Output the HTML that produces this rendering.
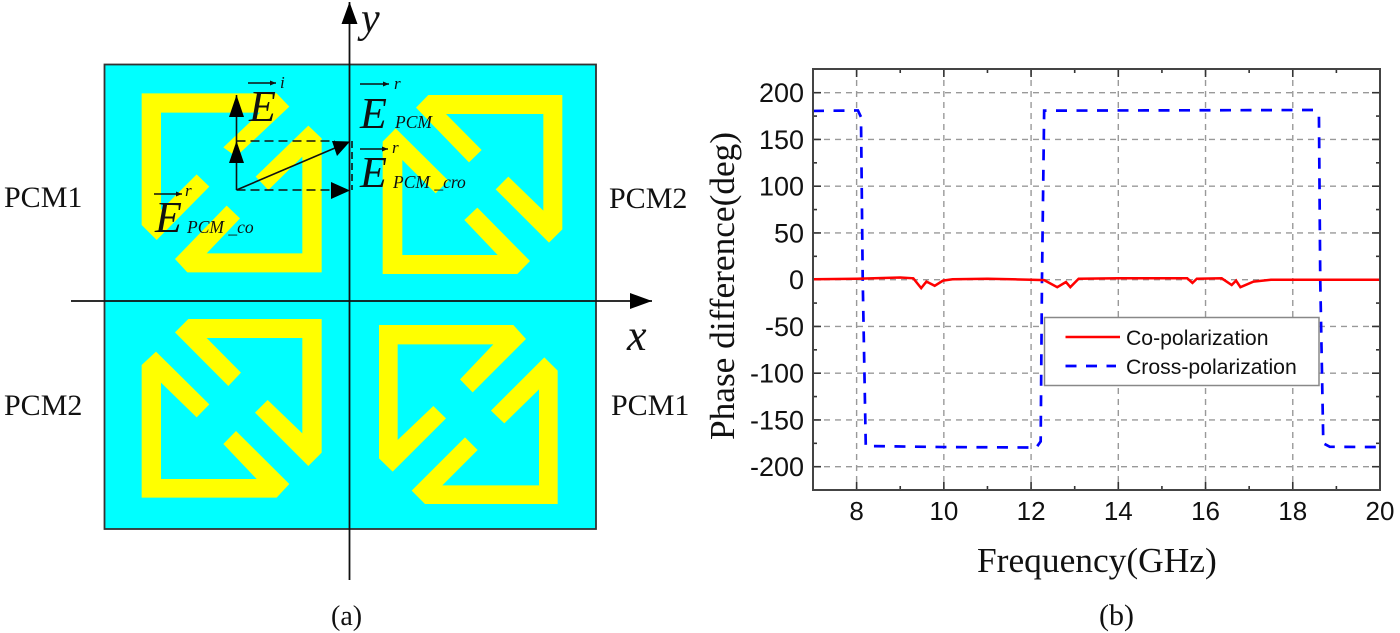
<!DOCTYPE html>
<html lang="en">
<head>
<meta charset="utf-8">
<title>Phase gradient metasurface and phase difference chart</title>
<style>
html,body{margin:0;padding:0;background:#fff;}
svg{display:block;filter:blur(0.35px);}
.serif{font-family:"Liberation Serif",serif;fill:#111;}
.sans{font-family:"Liberation Sans",sans-serif;fill:#111;}
.yellow{fill:#ffff00;}
</style>
</head>
<body>
<svg id="figure" xmlns="http://www.w3.org/2000/svg" width="1400" height="633" viewBox="0 0 1400 633">
  <defs>
    <marker id="bigHead" markerUnits="userSpaceOnUse" markerWidth="24" markerHeight="16" refX="22" refY="8" orient="auto"><path d="M0 0L22 8L0 16Z" fill="#000"/></marker>
    <marker id="tinyHead" markerUnits="userSpaceOnUse" markerWidth="7" markerHeight="5" refX="6" refY="2.5" orient="auto"><path d="M0 0L6 2.5L0 5Z" fill="#111"/></marker>
  </defs>

  <g id="panel-a">
    <rect x="104.5" y="64.5" width="491.5" height="464.5" fill="#00ffff" stroke="#333" stroke-width="1.8"/>

    <g transform="translate(100 60) scale(.33333)">
      <polygon class="yellow" points="125,100 530,100 568,140 408,290 370,262 480,158 183,158 183,450 290,343 328,380 170,540 125,495"/>
      <polygon class="yellow" points="625,197 665,235 665,637 262,637 225,597 380,437 420,475 320,580 607,580 607,290 505,390 467,350"/>
    </g>
    <g transform="translate(345 60) scale(.33333)">
      <polygon class="yellow" points="213,143 250,105 652,105 652,508 612,548 452,388 490,350 595,452 595,162 303,162 410,270 372,307"/>
      <polygon class="yellow" points="113,245 152,205 310,362 272,400 172,300 172,585 458,585 358,480 397,443 555,603 517,642 113,642"/>
    </g>
    <g transform="translate(100 300) scale(.33333)">
      <polygon class="yellow" points="225,97 265,57 665,57 665,458 625,498 465,338 503,300 607,400 607,114 320,114 423,218 385,258"/>
      <polygon class="yellow" points="125,195 168,155 328,313 290,352 183,248 183,537 470,537 370,432 408,393 568,552 530,593 125,593"/>
    </g>
    <g transform="translate(345 300) scale(.33333)">
      <polygon class="yellow" points="102,75 505,75 543,117 383,277 345,238 445,133 158,133 158,420 265,318 303,355 143,515 102,475"/>
      <polygon class="yellow" points="598,172 638,212 638,612 240,612 200,572 360,412 398,450 292,556 582,556 582,268 478,370 438,332"/>
    </g>

    <line x1="71" y1="301" x2="652" y2="301" stroke="#111" stroke-width="1.8" marker-end="url(#bigHead)"/>
    <line x1="349.5" y1="580" x2="349.5" y2="2" stroke="#111" stroke-width="1.8" marker-end="url(#bigHead)"/>
    <text class="serif" x="627" y="350" font-size="44" font-style="italic">x</text>
    <text class="serif" x="361" y="32" font-size="42" font-style="italic">y</text>

    <g stroke="#111" fill="none">
      <line x1="236.5" y1="190" x2="236.5" y2="95" stroke-width="1.6"/>
      <path d="M236.5 95L229 117H244Z M236.5 141L229 163H244Z" fill="#000" stroke="none"/>
      <line x1="236.5" y1="141" x2="335" y2="141" stroke-width="1.6" stroke-dasharray="9 5"/>
      <line x1="236.5" y1="190" x2="335" y2="190" stroke-width="1.6" stroke-dasharray="9 5"/>
      <path d="M331 182L350 190.5L331 199Z" fill="#000" stroke="none"/>
      <line x1="236.5" y1="190" x2="342" y2="145" stroke-width="1.6"/>
      <path d="M332 141L350 141.5L337 156Z" fill="#000" stroke="none"/>
      <line x1="352" y1="141" x2="352" y2="190" stroke-width="1.6" stroke-dasharray="7 4"/>
    </g>

    <g>
      <line x1="248" y1="83" x2="276" y2="83" stroke="#111" stroke-width="1.4" marker-end="url(#tinyHead)"/>
      <text class="serif" x="249" y="121" font-size="44" font-style="italic">E</text>
      <text class="serif" x="280" y="88" font-size="17" font-style="italic">i</text>
    </g>
    <g>
      <line x1="154" y1="194" x2="182" y2="194" stroke="#111" stroke-width="1.4" marker-end="url(#tinyHead)"/>
      <text class="serif" x="155" y="232" font-size="44" font-style="italic">E</text>
      <text class="serif" x="185" y="196" font-size="17" font-style="italic">r</text>
      <text class="serif" x="187" y="233" font-size="17.5" font-style="italic">PCM _co</text>
    </g>
    <g>
      <line x1="360" y1="84" x2="389" y2="84" stroke="#111" stroke-width="1.4" marker-end="url(#tinyHead)"/>
      <text class="serif" x="360" y="128" font-size="44" font-style="italic">E</text>
      <text class="serif" x="394" y="89" font-size="17" font-style="italic">r</text>
      <text class="serif" x="395" y="128" font-size="17.5" font-style="italic">PCM</text>
    </g>
    <g>
      <line x1="360" y1="149" x2="388" y2="149" stroke="#111" stroke-width="1.4" marker-end="url(#tinyHead)"/>
      <text class="serif" x="360" y="187" font-size="44" font-style="italic">E</text>
      <text class="serif" x="392" y="153" font-size="17" font-style="italic">r</text>
      <text class="serif" x="393" y="188" font-size="17.5" font-style="italic">PCM _cro</text>
    </g>

    <text class="serif" x="4" y="207" font-size="30">PCM1</text>
    <text class="serif" x="609" y="208" font-size="30">PCM2</text>
    <text class="serif" x="4" y="415" font-size="30">PCM2</text>
    <text class="serif" x="611" y="415" font-size="30">PCM1</text>
    <text class="serif" x="331" y="625" font-size="28">(a)</text>
  </g>

  <g id="panel-b">
    <g id="grid"></g>
    <g id="ticks"></g>
    <g id="series"></g>
    <rect x="813" y="69" width="567" height="421" fill="none" stroke="#444" stroke-width="2"/>
    <g id="tick-labels"></g>
    <text class="serif" font-size="35.3" transform="translate(734 440) rotate(-90)">Phase difference(deg)</text>
    <text class="serif" x="977" y="572" font-size="35.4">Frequency(GHz)</text>
    <g>
      <rect x="1044.5" y="317.5" width="274.5" height="68" fill="#fff" stroke="#888" stroke-width="1.5"/>
      <line x1="1065.5" y1="337" x2="1120" y2="337" stroke="#ff0000" stroke-width="2.5"/>
      <text class="sans" x="1126" y="345" font-size="21.2">Co-polarization</text>
      <line x1="1065.5" y1="366" x2="1116" y2="366" stroke="#0000ff" stroke-width="2.7" stroke-dasharray="11 9.5"/>
      <text class="sans" x="1126" y="374" font-size="21.2">Cross-polarization</text>
    </g>
    <text class="serif" x="1099" y="625" font-size="30">(b)</text>
  </g>
</svg>
<script>
const xTicks = [8, 10, 12, 14, 16, 18, 20];
const xMinorTicks = [9, 11, 13, 15, 17, 19];
const yTicks = [-200, -150, -100, -50, 0, 50, 100, 150, 200];
const yMinorTicks = [-175, -125, -75, -25, 25, 75, 125, 175];
const xGridTicks = [8, 10, 12, 14, 16, 18];
const coFreq = [7, 8, 9, 9.3, 9.48, 9.6, 9.79, 9.98, 10.2, 11, 12, 12.3, 12.6, 12.8, 12.9, 13.09, 14, 15.58, 15.7, 15.8, 16.37, 16.6, 16.7, 16.8, 17.1, 17.5, 18, 20];
const coPhase = [0.5, 1, 2.4, 1.5, -9, -2, -6.5, -1, 0.5, 1, 0, -0.5, -8, -2.5, -8, 1, 1.5, 1.5, -3.5, 1, 1.5, -5.7, -1, -8, -2, 0, 0, 0];
const crossFreq = [7, 8, 8.03, 8.1, 8.14, 8.21, 8.4, 10, 12.12, 12.22, 12.25, 12.3, 14, 18.47, 18.6, 18.63, 18.7, 18.85, 20];
const crossPhase = [180.5, 181, 181, 174, 0, -178, -178, -179, -179.5, -173, 0, 180.8, 181, 181.5, 176, 0, -175, -178.7, -179];

const NS = 'http://www.w3.org/2000/svg';
const plotLeft = 813, plotRight = 1380, plotTop = 69, plotBottom = 490;
const sx = v => plotLeft + (v - 7) * (plotRight - plotLeft) / 13;
const sy = v => 279.7 - v * 0.935;

function make(tag, parentId, attrs, text) {
  const el = document.createElementNS(NS, tag);
  for (const k in attrs) el.setAttribute(k, attrs[k]);
  if (text !== undefined) el.textContent = text;
  document.getElementById(parentId).appendChild(el);
  return el;
}

xGridTicks.forEach(v => {
  const el = make('line', 'grid', {x1: sx(v), x2: sx(v), y1: plotTop, y2: plotBottom, stroke: '#999', 'stroke-width': 1.4, 'stroke-dasharray': '6 5'});
  
  
});
yTicks.forEach(v => {
  const el = make('line', 'grid', {x1: plotLeft, x2: plotRight, y1: sy(v), y2: sy(v), stroke: '#999', 'stroke-width': 1.4, 'stroke-dasharray': '6 5'});
  
  
});

function xTick(v, len) {
  const top = make('line', 'ticks', {x1: sx(v), x2: sx(v), y1: plotTop, y2: plotTop + len, stroke: '#333', 'stroke-width': 1.6});
  
  
  const bottom = make('line', 'ticks', {x1: sx(v), x2: sx(v), y1: plotBottom - len, y2: plotBottom, stroke: '#333', 'stroke-width': 1.6});
  
  
}
function yTick(v, len) {
  const left = make('line', 'ticks', {x1: plotLeft, x2: plotLeft + len, y1: sy(v), y2: sy(v), stroke: '#333', 'stroke-width': 1.6});
  
  
  const right = make('line', 'ticks', {x1: plotRight - len, x2: plotRight, y1: sy(v), y2: sy(v), stroke: '#333', 'stroke-width': 1.6});
  
  
}
xTicks.forEach(v => xTick(v, 8));
xMinorTicks.forEach(v => xTick(v, 4));
yTicks.forEach(v => yTick(v, 8));
yMinorTicks.forEach(v => yTick(v, 4));

const xLabelValues = [8, 10, 12, 14, 16, 18, 20];
xLabelValues.forEach(v => {
  const el = make('text', 'tick-labels', {x: sx(v), y: 520, 'text-anchor': 'middle', 'font-size': 26, class: 'sans'}, String(v));
  
  
});
yTicks.forEach(v => {
  const el = make('text', 'tick-labels', {x: 804, y: sy(v) + 9.5, 'text-anchor': 'end', 'font-size': 27, class: 'sans'}, String(v));
  
  
});

function linePoints(xs, ys) {
  return xs.map((x, i) => sx(x).toFixed(2) + ',' + sy(ys[i]).toFixed(2)).join(' ');
}
const crossLine = make('polyline', 'series', {points: linePoints(crossFreq, crossPhase), fill: 'none', stroke: '#0000ff', 'stroke-width': 2.7, 'stroke-dasharray': '11 9.5'});


const coLine = make('polyline', 'series', {points: linePoints(coFreq, coPhase), fill: 'none', stroke: '#ff0000', 'stroke-width': 2.5});


</script>
</body>
</html>
